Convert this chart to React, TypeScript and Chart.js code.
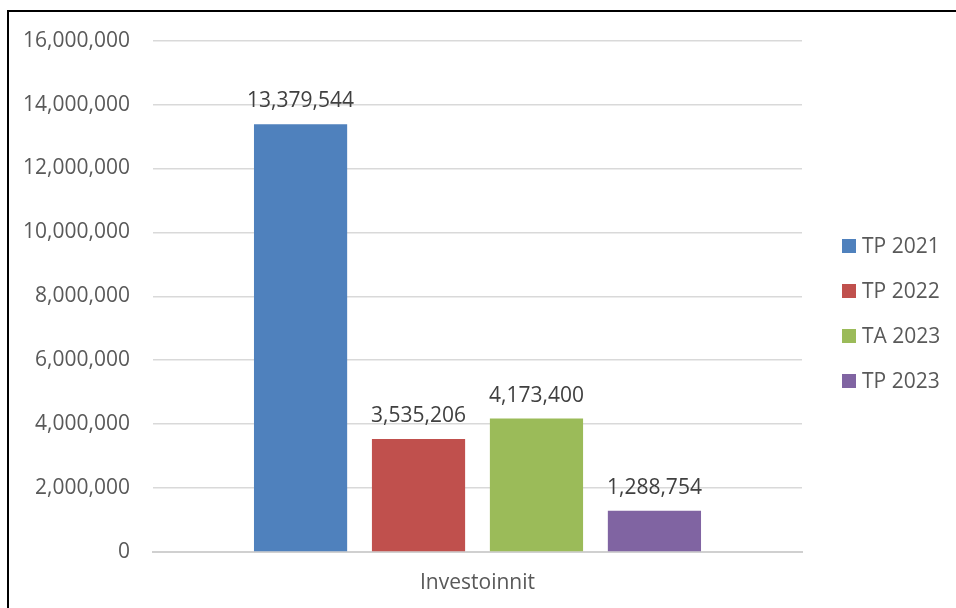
import React, { useEffect, useRef } from "react";
import { Chart, registerables } from "chart.js";

Chart.register(...registerables);

const categories = ["Investoinnit"];
const seriesNames = ["TP 2021", "TP 2022", "TA 2023", "TP 2023"];
const seriesValues = [[13379544], [3535206], [4173400], [1288754]];
const seriesColors = ["#4f81bd", "#c0504d", "#9bbb59", "#8064a2"];
const yTickMax = 16000000;
const yTickStep = 2000000;

const FONT = "'Open Sans', 'Noto Sans', sans-serif";
const fmt = (v: number) => v.toLocaleString("en-US");

const valueLabels = {
  id: "valueLabels",
  afterDatasetsDraw(chart: any) {
    const ctx = chart.ctx;
    ctx.save();
    ctx.font = `21px ${FONT}`;
    ctx.fillStyle = "#404040";
    ctx.textAlign = "center";
    ctx.textBaseline = "alphabetic";
    chart.data.datasets.forEach((ds: any, i: number) => {
      const meta = chart.getDatasetMeta(i);
      meta.data.forEach((el: any, j: number) => {
        ctx.fillText(fmt(ds.data[j]), el.x, el.y - 17);
      });
    });
    ctx.restore();
  },
};

const sideLegend = {
  id: "sideLegend",
  afterDraw(chart: any) {
    const ctx = chart.ctx;
    const area = chart.chartArea;
    ctx.save();
    ctx.font = `21px ${FONT}`;
    ctx.textAlign = "left";
    ctx.textBaseline = "middle";
    const x0 = area.right + 40;
    const y0 = 241;
    const gap = 45;
    chart.data.datasets.forEach((ds: any, i: number) => {
      const cy = y0 + i * gap;
      ctx.fillStyle = ds.backgroundColor;
      ctx.fillRect(x0, cy - 7, 14, 14);
      ctx.fillStyle = "#595959";
      ctx.fillText(ds.label, x0 + 20, cy + 1);
    });
    ctx.restore();
  },
};

export default function App() {
  const ref = useRef<HTMLCanvasElement>(null);
  useEffect(() => {
    if (!ref.current) return;
    const chart = new Chart(ref.current, {
      type: "bar",
      data: {
        labels: categories,
        datasets: seriesNames.map((name, i) => ({
          label: name,
          data: seriesValues[i],
          backgroundColor: seriesColors[i],
          borderWidth: 0,
          categoryPercentage: 0.727,
          barPercentage: 0.79,
        })),
      },
      options: {
        animation: false,
        responsive: false,
        devicePixelRatio: 1,
        layout: { padding: { top: 0, right: 154, bottom: 0, left: 0 } },
        plugins: {
          legend: { display: false },
          tooltip: { enabled: false },
        },
        scales: {
          x: {
            grid: { display: false, drawTicks: false },
            border: { display: true, color: "#d0d0d0", width: 2 },
            ticks: {
              color: "#595959",
              font: { family: FONT, size: 21 },
              padding: 18,
            },
            afterFit: (s: any) => {
              s.height = 56;
            },
          },
          y: {
            min: 0,
            max: yTickMax,
            grid: {
              color: "#d9d9d9",
              lineWidth: 1.5,
              drawTicks: false,
            },
            border: { display: false },
            ticks: {
              stepSize: yTickStep,
              color: "#595959",
              font: { family: FONT, size: 21 },
              padding: 23,
              callback: (v: any) => fmt(Number(v)),
            },
            afterFit: (s: any) => {
              s.width = 144;
            },
          },
        },
      },
      plugins: [valueLabels, sideLegend],
    });
    return () => chart.destroy();
  }, []);

  return (
    <div
      style={{
        position: "fixed",
        left: 0,
        top: 0,
        width: 956,
        height: 608,
        overflow: "hidden",
        background: "#fff",
      }}
    >
      <div
        style={{
          position: "absolute",
          left: 7,
          top: 10,
          width: 970,
          height: 620,
          border: "2px solid #000",
          boxSizing: "border-box",
        }}
      >
        <canvas
          ref={ref}
          width={947}
          height={603}
          style={{ position: "absolute", left: 0, top: -7, width: 947, height: 603 }}
        />
      </div>
    </div>
  );
}
